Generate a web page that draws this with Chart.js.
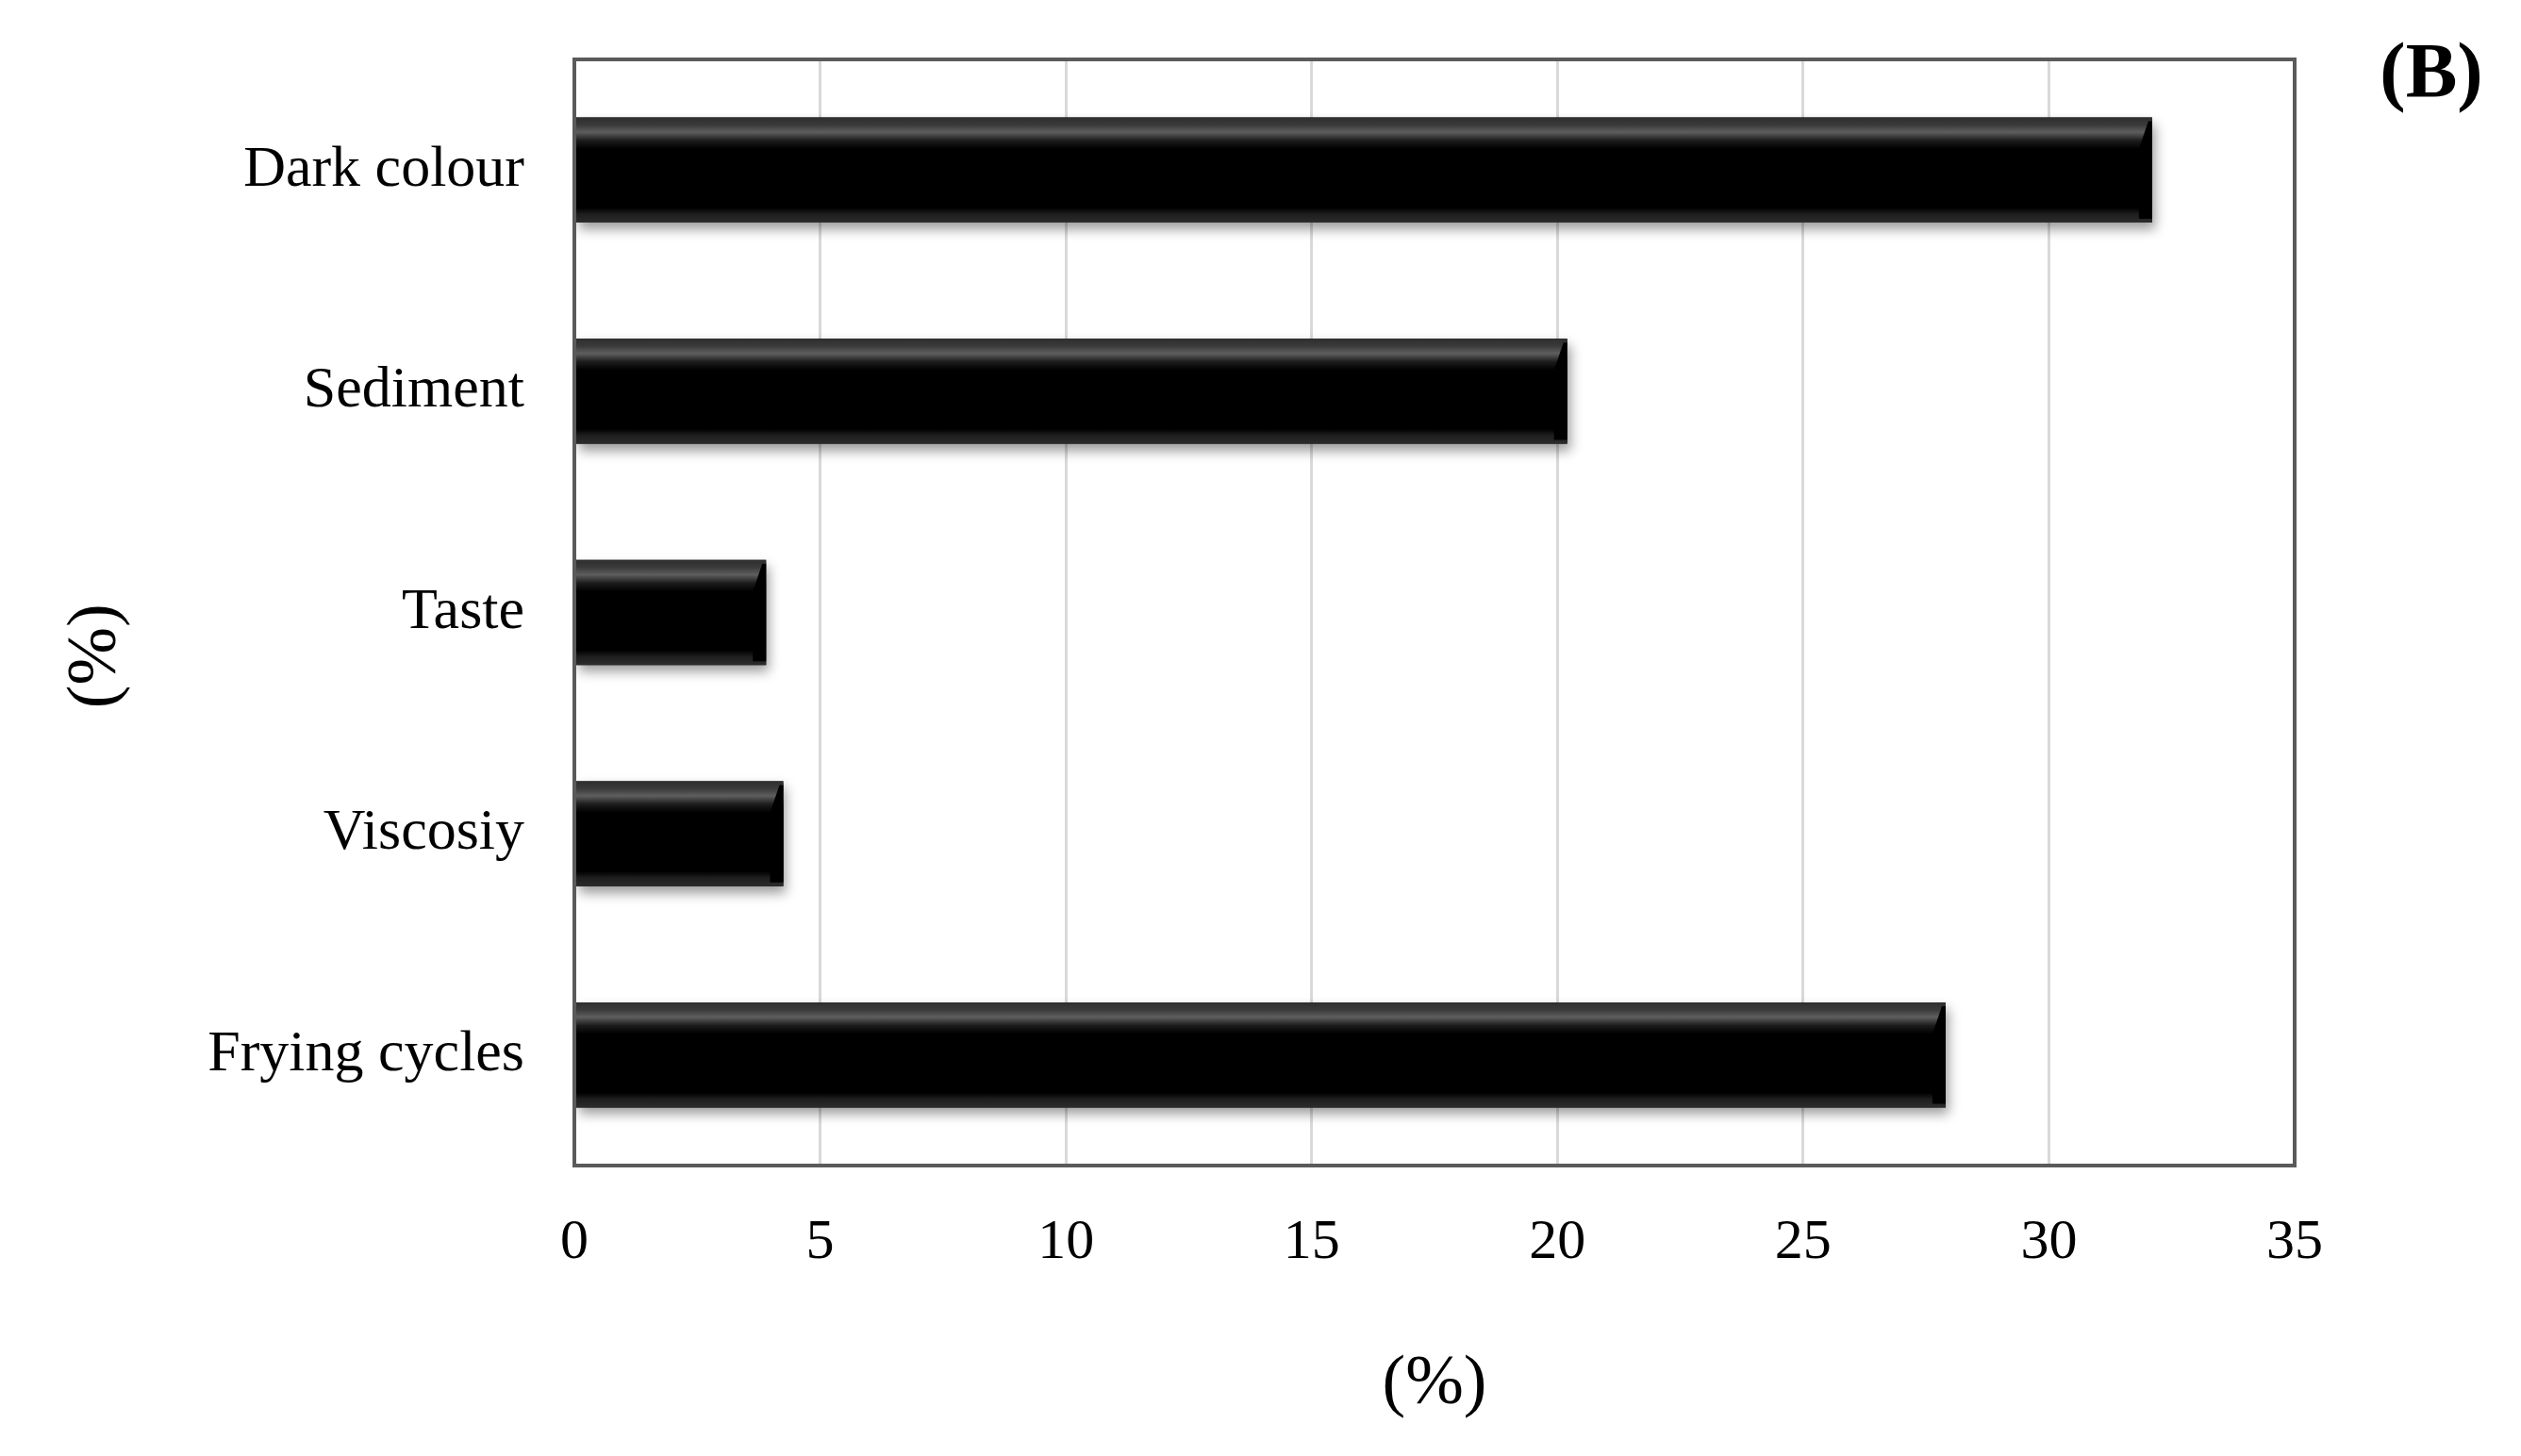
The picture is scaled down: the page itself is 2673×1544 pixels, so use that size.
<!DOCTYPE html>
<html>
<head>
<meta charset="utf-8">
<title>Frying oil discard criteria (B)</title>
<script src="https://cdn.jsdelivr.net/npm/chart.js@4.4.1/dist/chart.umd.min.js"></script>
<style>
  html, body { margin: 0; padding: 0; background: #fff; }
  #wrap { width: 2673px; height: 1544px; position: relative; }
</style>
</head>
<body>
<div id="wrap"><canvas id="chart"></canvas></div>
<script>
// ─── Data ───
const categories = ["Dark colour", "Sediment", "Taste", "Viscosiy", "Frying cycles"];
const percentValues = [32.1, 20.2, 3.9, 4.25, 27.9];
const xTicks = [0, 5, 10, 15, 20, 25, 30, 35];
const axisTitle = "(%)";
const panelLabel = "(B)";

const SERIF = "'Liberation Serif', 'Times New Roman', serif";

// ── white page + frame around the plot ──
const framePlugin = {
  id: "frame",
  beforeDraw(chart) {
    const c = chart.ctx;
    c.save();
    c.fillStyle = "#fff";
    c.fillRect(0, 0, chart.width, chart.height);
    c.restore();
  },
  afterDraw(chart) {
    const { ctx: c, chartArea: a } = chart;
    c.save();
    c.strokeStyle = "#5a5a5a";
    c.lineWidth = 4;
    c.strokeRect(a.left, a.top, a.right - a.left, a.bottom - a.top);
    // panel letter
    c.fillStyle = "#000";
    c.font = "bold 82px " + SERIF;
    c.textAlign = "center";
    c.textBaseline = "middle";
    c.fillText(panelLabel, a.right + 145, a.top + 18);
    c.restore();
  }
};

// ── bevelled black bars with a soft shadow ──
const bevelPlugin = {
  id: "bevel",
  beforeDatasetDraw(chart) {
    const c = chart.ctx;
    c.save();
    c.shadowColor = "rgba(0,0,0,0.4)";
    c.shadowBlur = 12;
    c.shadowOffsetX = 3;
    c.shadowOffsetY = 7;
  },
  afterDatasetDraw(chart, args) {
    const c = chart.ctx;
    c.restore();
    args.meta.data.forEach(bar => {
      const top = bar.y - bar.height / 2;
      const left = Math.min(bar.base, bar.x);
      const w = Math.abs(bar.x - bar.base);
      const g = c.createLinearGradient(0, top, 0, top + bar.height);
      g.addColorStop(0, "#2e2e2e");
      g.addColorStop(0.07, "#3a3a3a");
      g.addColorStop(0.14, "#5e5e5e");
      g.addColorStop(0.22, "#1c1c1c");
      g.addColorStop(0.3, "#000");
      g.addColorStop(0.86, "#000");
      g.addColorStop(0.92, "#1e1e1e");
      g.addColorStop(1, "#2c2c2c");
      c.save();
      c.fillStyle = g;
      c.fillRect(left, top, w, bar.height);
      // bevelled end
      c.fillStyle = "#000";
      c.beginPath();
      c.moveTo(left + w - 14, top + bar.height * 0.3);
      c.lineTo(left + w - 4, top + 4);
      c.lineTo(left + w, top + 4);
      c.lineTo(left + w, top + bar.height - 4);
      c.lineTo(left + w - 14, top + bar.height - 4);
      c.closePath();
      c.fill();
      c.restore();
    });
  }
};

// ── Chart ──
new Chart(document.getElementById("chart"), {
  type: "bar",
  data: {
    labels: categories,
    datasets: [{
      data: percentValues,
      backgroundColor: "#000",
      borderWidth: 0,
      categoryPercentage: 1,
      barPercentage: 0.475
    }]
  },
  options: {
    indexAxis: "y",
    responsive: true,
    maintainAspectRatio: false,
    animation: false,
    layout: { padding: { top: 63, right: 240, left: 0, bottom: 0 } },
    plugins: {
      legend: { display: false },
      tooltip: { enabled: false }
    },
    scales: {
      x: {
        min: 0,
        max: 35,
        afterBuildTicks: s => { s.ticks = xTicks.map(v => ({ value: v })); },
        afterFit: s => { s.height = 308; s.paddingLeft = 0; s.paddingRight = 0; },
        grid: { display: true, color: "#d9d9d9", lineWidth: 3, drawTicks: false, tickLength: 0 },
        border: { display: true, color: "#5a5a5a", width: 4 },
        ticks: {
          padding: 46,
          color: "#000",
          font: { family: SERIF, size: 60 }
        },
        title: {
          display: true,
          text: axisTitle,
          color: "#000",
          font: { family: SERIF, size: 74 },
          padding: { top: 0, bottom: 31 }
        }
      },
      y: {
        afterFit: s => { s.width = 609; s.paddingTop = 0; s.paddingBottom = 0; },
        grid: { display: false, drawTicks: false, tickLength: 0 },
        border: { display: true, color: "#5a5a5a", width: 4 },
        ticks: {
          padding: 53,
          color: "#000",
          font: { family: SERIF, size: 62 }
        },
        title: {
          display: true,
          // trailing spaces nudge the rotated title slightly below centre, as in the original
          text: axisTitle + "\u00a0\u00a0\u00a0\u00a0\u00a0",
          color: "#000",
          font: { family: SERIF, size: 74 },
          padding: { top: 58, bottom: 0 }
        }
      }
    }
  },
  plugins: [framePlugin, bevelPlugin]
});
</script>
</body>
</html>
